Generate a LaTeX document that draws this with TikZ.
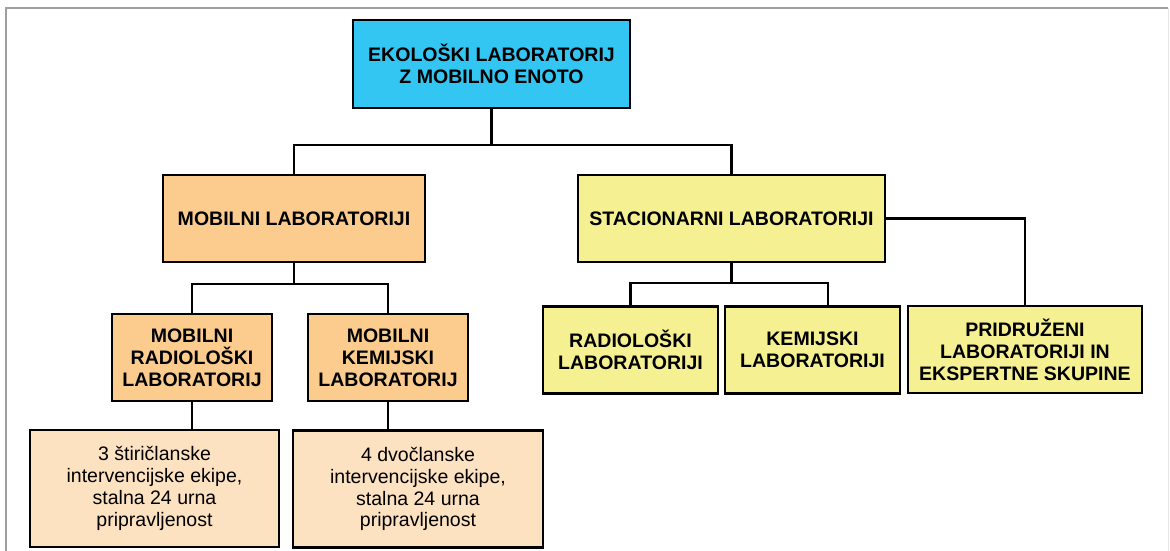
\documentclass[tikz,border=0pt]{standalone}
\usepackage{fontspec}
\setmainfont{Liberation Sans}
\usepackage{tikz}
\usetikzlibrary{arrows,calc,positioning,shapes}
\definecolor{ekoblue}{RGB}{52,198,242}
\definecolor{moborange}{RGB}{252,204,143}
\definecolor{mobpeach}{RGB}{253,226,194}
\definecolor{statyellow}{RGB}{245,240,145}
\tikzstyle{lab} = [rectangle, draw=black, line width=2.6bp, inner sep=0pt, align=center, font=\fontsize{19.6}{22}\selectfont\bfseries]
\tikzstyle{eko} = [lab, fill=ekoblue, minimum width=277bp, minimum height=88bp]
\tikzstyle{mob} = [lab, fill=moborange, minimum height=87bp]
\tikzstyle{stac} = [lab, fill=statyellow, minimum height=87bp]
\tikzstyle{ekipe} = [lab, fill=mobpeach, font=\fontsize{19.6}{22}\selectfont, minimum width=250bp, minimum height=117bp]
\tikzstyle{line} = [line width=2.5bp]

\begin{document}
\begin{tikzpicture}[x=1bp, y=-1bp]
\useasboundingbox (0,0) rectangle (1170,551);
% frame
\draw [gray!75, line width=1.5bp] (6,551) -- (6,8) -- (1168,8);
\draw [gray!20, line width=1bp] (1168,8) -- (1168,551);
% boxes
\node (eko) at (491.5,64) [eko] {EKOLOŠKI LABORATORIJ\\Z MOBILNO ENOTO};
\node (mob) at (294,218.5) [mob, minimum width=262bp] {MOBILNI LABORATORIJI};
\node (stac) at (731.5,218.5) [stac, minimum width=307bp] {STACIONARNI LABORATORIJI};
\node (mrad) at (192,357.5) [mob, minimum width=160bp] {MOBILNI\\RADIOLOŠKI\\LABORATORIJ};
\node (mkem) at (388,357.5) [mob, minimum width=160bp] {MOBILNI\\KEMIJSKI\\LABORATORIJ};
\node (ek3) at (154.5,488.5) [ekipe, minimum width=249bp] {3 štiričlanske\\intervencijske ekipe,\\stalna 24 urna\\pripravljenost};
\node (ek4) at (418,489) [ekipe] {4 dvočlanske\\intervencijske ekipe,\\stalna 24 urna\\pripravljenost};
\node (rad) at (630.5,350) [stac, minimum width=175bp] {RADIOLOŠKI\\LABORATORIJI};
\node (kem) at (812.5,350) [stac, minimum width=175bp] {KEMIJSKI\\LABORATORIJI};
\node (pri) at (1025,349.5) [stac, minimum width=234bp] {PRIDRUŽENI\\LABORATORIJI IN\\EKSPERTNE SKUPINE};
% connectors
\coordinate (j1) at (491.5,145);
\coordinate (j2) at (294,284);
\coordinate (j3) at (731.5,283);
\draw [line] (eko.south) -- (j1);
\draw [line] (mob.north) |- (j1) -| (stac.north);
\draw [line] (mob.south) -- (j2);
\draw [line] (mrad.north) |- (j2) -| (mkem.north);
\draw [line] (mrad.south) -- (mrad.south |- ek3.north);
\draw [line] (mkem.south) -- (mkem.south |- ek4.north);
\draw [line] (stac.south) -- (j3);
\draw [line] (rad.north) |- (j3) -| ([xshift=15.5bp]kem.north);
\draw [line] (stac.east) -| (pri.north);
\end{tikzpicture}
\end{document}
